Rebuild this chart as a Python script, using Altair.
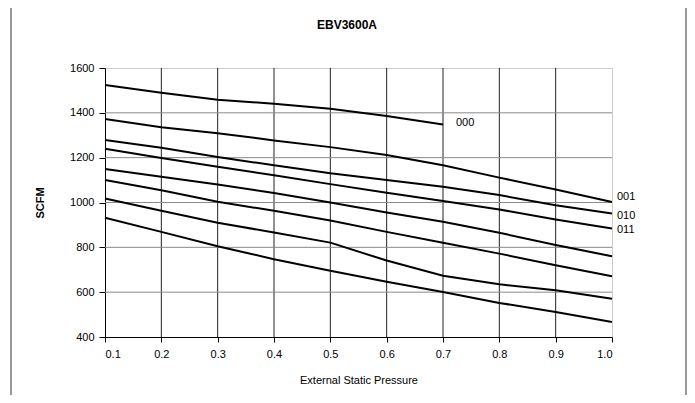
import altair as alt
import pandas as pd

# ---- data ----
pressure = [0.1, 0.2, 0.3, 0.4, 0.5, 0.6, 0.7, 0.8, 0.9, 1.0]
s000 = [1524, 1490, 1458, 1441, 1418, 1386, 1348]
s001 = [1372, 1336, 1309, 1277, 1247, 1212, 1166, 1111, 1058, 1002]
s010 = [1279, 1244, 1203, 1166, 1130, 1100, 1070, 1033, 988, 951]
s011 = [1240, 1199, 1159, 1122, 1082, 1044, 1007, 969, 924, 884]
s100 = [1149, 1115, 1080, 1042, 1000, 955, 914, 865, 810, 760]
s101 = [1100, 1055, 1003, 963, 920, 869, 820, 772, 720, 671]
s110 = [1018, 963, 910, 866, 821, 741, 673, 635, 609, 571]
s111 = [932, 869, 805, 747, 696, 646, 601, 552, 512, 467]

series = {"000": s000, "001": s001, "010": s010, "011": s011,
          "100": s100, "101": s101, "110": s110, "111": s111}

label_text = ["000", "001", "010", "011"]
label_x = [0.7, 1.0, 1.0, 1.0]
label_y = [1355, 1023, 941, 877]
label_dx = [13, 5, 5, 5]

x_ticks = [0.1, 0.2, 0.3, 0.4, 0.5, 0.6, 0.7, 0.8, 0.9, 1.0]
y_ticks = [400, 600, 800, 1000, 1200, 1400, 1600]
x_grid = [0.2, 0.3, 0.4, 0.5, 0.6, 0.7, 0.8, 0.9]
y_grid = [600, 800, 1000, 1200, 1400]

title_text = "EBV3600A"
x_title = "External Static Pressure"
y_title = "SCFM"

# ---- tables ----
rows = []
for name, vals in series.items():
    for p, v in zip(pressure, vals):
        rows.append({"p": p, "scfm": v, "s": name})
df = pd.DataFrame(rows)
labels = pd.DataFrame({"t": label_text, "p": label_x, "scfm": label_y})

W, H = 507, 269
FONT = "Liberation Sans"

xs = alt.Scale(domain=[0.1, 1.0], nice=False, zero=False)
ys = alt.Scale(domain=[400, 1600], nice=False, zero=False)

x_axis = alt.Axis(values=x_ticks, format=".1f", grid=False, domainColor="#000",
                  tickColor="#000", tickSize=5, labelPadding=6, labelFontSize=11,
                  labelFont=FONT, labelColor="#000", title=x_title, titleFont=FONT,
                  titleFontSize=11, titleFontWeight="normal", titleColor="#000",
                  titleX=W / 2, titleY=43, titleBaseline="middle", titleAlign="center")
y_axis = alt.Axis(values=y_ticks, format="d", grid=False, domainColor="#000",
                  tickColor="#000", tickSize=6, labelPadding=5, labelFontSize=11,
                  labelFont=FONT, labelColor="#000", title=y_title, titleFont=FONT,
                  titleFontSize=11, titleFontWeight="bold", titleColor="#000",
                  titleX=-65, titleY=H / 2, titleAngle=-90, titleBaseline="middle",
                  titleAlign="center")

vgrid = alt.Chart(pd.DataFrame({"p": x_grid})).mark_rule(
    color="#222", strokeWidth=1).encode(x=alt.X("p:Q", scale=xs, axis=x_axis))
hgrid = alt.Chart(pd.DataFrame({"scfm": y_grid})).mark_rule(
    color="#8a8a8a", strokeWidth=1).encode(y=alt.Y("scfm:Q", scale=ys, axis=y_axis))

lines = alt.Chart(df).mark_line(color="#000", strokeWidth=2).encode(
    x=alt.X("p:Q", scale=xs, axis=x_axis),
    y=alt.Y("scfm:Q", scale=ys, axis=y_axis),
    detail="s:N",
)

label_layers = []
for i in range(len(label_text)):
    sub = labels.iloc[[i]]
    label_layers.append(
        alt.Chart(sub).mark_text(align="left", baseline="middle", font=FONT,
                                 fontSize=11, color="#000", dx=label_dx[i]).encode(
            x=alt.X("p:Q", scale=xs, axis=x_axis),
            y=alt.Y("scfm:Q", scale=ys, axis=y_axis),
            text="t:N",
        )
    )

title = alt.Chart(pd.DataFrame({"t": [title_text]})).mark_text(
    font=FONT, fontSize=12, fontWeight="bold", color="#000", align="center",
    baseline="middle").encode(text="t:N", x=alt.value(242), y=alt.value(-43))

border_left = alt.Chart(pd.DataFrame({"a": [0]})).mark_rule(color="#333", strokeWidth=1).encode(
    x=alt.value(-94), y=alt.value(-60), y2=alt.value(327))
border_right = alt.Chart(pd.DataFrame({"a": [0]})).mark_rule(color="#333", strokeWidth=1).encode(
    x=alt.value(581), y=alt.value(-60), y2=alt.value(327))

chart = alt.layer(vgrid, hgrid, lines, *label_layers, title, border_left, border_right).properties(
    width=W, height=H,
    autosize=alt.AutoSizeParams(type="none"),
    padding={"left": 97, "top": 60, "right": 75, "bottom": 58},
    background="#ffffff",
).configure_view(stroke="#999", strokeDash=[1, 1], strokeWidth=1)

chart.save("out.html", embed_options={"renderer": "svg", "actions": False})
